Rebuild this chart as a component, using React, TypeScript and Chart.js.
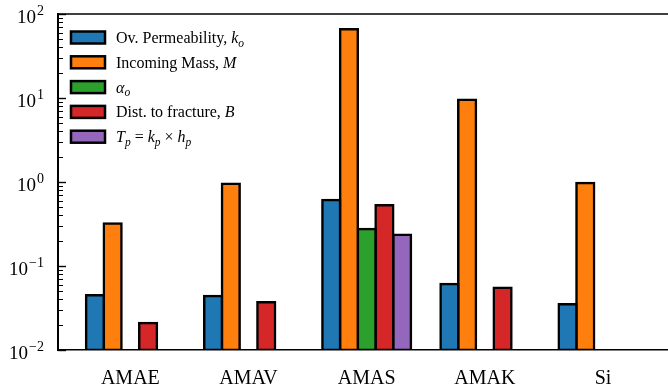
import React, { useEffect, useRef } from 'react';
import { Chart, registerables } from 'chart.js';

Chart.register(...registerables);

// ---------- data ----------
const CATEGORIES = ['AMAE', 'AMAV', 'AMAS', 'AMAK', 'Si'];
const PERMEABILITY = [0.045, 0.044, 0.61, 0.061, 0.035];
const INCOMING_MASS = [0.32, 0.95, 66, 9.5, 0.97];
const ALPHA = [null, null, 0.275, null, null];
const DIST_FRACTURE = [0.021, 0.037, 0.53, 0.055, null];
const TRANSMISSIVITY = [null, null, 0.235, null, null];

const SERIES_NAMES = [
  'Ov. Permeability, k_o',
  'Incoming Mass, M',
  'α_o',
  'Dist. to fracture, B',
  'T_p = k_p × h_p',
];
// legend text runs: [text, style] with n = normal, i = italic, s = italic subscript
const LEGEND_RUNS: [string, string][][] = [
  [['Ov. Permeability, ', 'n'], ['k', 'i'], ['o', 's']],
  [['Incoming Mass, ', 'n'], ['M', 'i']],
  [['α', 'i'], ['o', 's']],
  [['Dist. to fracture, ', 'n'], ['B', 'i']],
  [['T', 'i'], ['p', 's'], [' = ', 'n'], ['k', 'i'], ['p', 's'], [' × ', 'n'], ['h', 'i'], ['p', 's']],
];
const SERIES_COLORS = ['#1f77b4', '#ff7f0e', '#2ca02c', '#d62728', '#9467bd'];
const Y_MIN = 0.01;
const Y_MAX = 100;
const Y_DECADES = [-2, -1, 0, 1, 2];
const X_MIN = -0.6125;
const X_MAX = 4.55;

const SERIF = '"Liberation Serif", "DejaVu Serif", serif';

const decorPlugin = {
  id: 'decor',
  afterDraw(chart: any) {
    const { ctx, chartArea } = chart;
    const ys = chart.scales.y;
    ctx.save();
    // top spine
    ctx.strokeStyle = '#000';
    ctx.lineWidth = 1.5;
    ctx.beginPath();
    ctx.moveTo(chartArea.left - 1, chartArea.top);
    ctx.lineTo(chartArea.right, chartArea.top);
    ctx.stroke();

    // inward ticks on left spine
    const x0 = chartArea.left;
    Y_DECADES.forEach((d) => {
      const py = Math.round(ys.getPixelForValue(Math.pow(10, d))) + 0.5;
      ctx.lineWidth = 1.4;
      ctx.beginPath();
      ctx.moveTo(x0, py);
      ctx.lineTo(x0 + 8, py);
      ctx.stroke();
      if (d < 2) {
        for (let m = 2; m <= 9; m++) {
          const pm = Math.round(ys.getPixelForValue(m * Math.pow(10, d))) + 0.5;
          ctx.lineWidth = 1;
          ctx.beginPath();
          ctx.moveTo(x0, pm);
          ctx.lineTo(x0 + 5, pm);
          ctx.stroke();
        }
      }
    });

    // y tick labels 10^n
    ctx.fillStyle = '#000';
    ctx.textAlign = 'left';
    ctx.textBaseline = 'alphabetic';
    const R = 44;
    Y_DECADES.forEach((d) => {
      const py = ys.getPixelForValue(Math.pow(10, d));
      const exp = d < 0 ? '\u2212' + Math.abs(d) : String(d);
      ctx.font = `14px ${SERIF}`;
      const ew = ctx.measureText(exp).width;
      ctx.fillText(exp, R - ew, py + 0.5);
      ctx.font = `19px ${SERIF}`;
      const bw = ctx.measureText('10').width;
      ctx.fillText('10', R - ew - 1 - bw, py + 8.5);
    });

    // legend
    const boxX = 71;
    const boxW = 34;
    const boxH = 12;
    const textX = 116;
    LEGEND_RUNS.forEach((runs, i) => {
      const cy = 37.5 + i * 24.8;
      ctx.fillStyle = SERIES_COLORS[i];
      ctx.fillRect(boxX, cy - boxH / 2, boxW, boxH);
      ctx.strokeStyle = '#000';
      ctx.lineWidth = 2.5;
      ctx.strokeRect(boxX, cy - boxH / 2, boxW, boxH);
      ctx.fillStyle = '#000';
      let x = textX;
      const base = cy + 5.5;
      runs.forEach(([t, s]) => {
        if (s === 'n') {
          ctx.font = `16px ${SERIF}`;
          ctx.fillText(t, x, base);
        } else if (s === 'i') {
          ctx.font = `italic 16px ${SERIF}`;
          ctx.fillText(t, x, base);
        } else {
          ctx.font = `italic 11.5px ${SERIF}`;
          ctx.fillText(t, x, base + 3.5);
        }
        x += ctx.measureText(t).width;
      });
    });
    ctx.restore();
  },
};

export default function App() {
  const ref = useRef<HTMLCanvasElement>(null);
  useEffect(() => {
    const canvas = ref.current;
    if (!canvas) return;
    const seriesValues = [PERMEABILITY, INCOMING_MASS, ALPHA, DIST_FRACTURE, TRANSMISSIVITY];
    const datasets = SERIES_NAMES.map((name, si) => ({
      label: name,
      data: CATEGORIES.map((_, i) => ({ x: i, y: seriesValues[si][i] })),
      backgroundColor: SERIES_COLORS[si],
      borderColor: '#000',
      borderWidth: 2.5,
      borderSkipped: false,
      inflateAmount: 1.25,
      categoryPercentage: 0.75,
      barPercentage: 1,
    }));
    const chart = new Chart(canvas, {
      type: 'bar',
      data: { datasets: datasets as any },
      options: {
        animation: false,
        responsive: false,
        maintainAspectRatio: false,
        layout: { padding: { top: 14, left: 0, right: 0, bottom: 0 } },
        plugins: { legend: { display: false }, tooltip: { enabled: false } },
        scales: {
          x: {
            type: 'linear',
            min: X_MIN,
            max: X_MAX,
            offset: false,
            grid: { display: false, drawTicks: false, offset: false },
            border: { display: true, color: '#000', width: 1.5 },
            afterBuildTicks: (s: any) => {
              s.ticks = CATEGORIES.map((_, i) => ({ value: i }));
            },
            afterFit: (s: any) => {
              s.height = 40;
            },
            ticks: {
              autoSkip: false,
              maxRotation: 0,
              minRotation: 0,
              padding: 17,
              color: '#000',
              font: { family: SERIF, size: 20 },
              callback: (v: any) => CATEGORIES[Math.round(Number(v))] ?? '',
            },
          },
          y: {
            type: 'logarithmic',
            min: Y_MIN,
            max: Y_MAX,
            grid: { display: false, drawTicks: false },
            border: { display: true, color: '#000', width: 2 },
            ticks: { display: false },
            afterFit: (s: any) => {
              s.width = 58;
            },
          },
        },
      },
      plugins: [decorPlugin],
    });
    return () => chart.destroy();
  }, []);
  return (
    <div style={{ position: 'fixed', left: 0, top: 0, width: 668, height: 390, overflow: 'hidden', background: '#fff' }}>
      <canvas ref={ref} width={668} height={390} style={{ display: 'block' }} />
    </div>
  );
}
